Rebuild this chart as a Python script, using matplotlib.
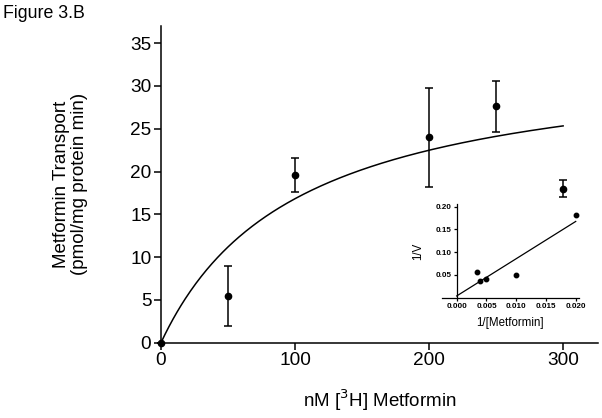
import numpy as np
import matplotlib
matplotlib.use("Agg")
import matplotlib.pyplot as plt

plt.rcParams["font.family"] = ["Liberation Sans", "DejaVu Sans"]

# main panel: uptake vs concentration (mean +/- error)
conc_nM = [0, 50, 100, 200, 250, 300]
transport = [0.0, 5.5, 19.6, 24.0, 27.6, 18.0]
transport_err = [0.0, 3.5, 2.0, 5.8, 2.95, 1.0]

# Michaelis-Menten fit parameters
VMAX = 33.9
KM = 101.5

# inset: Lineweaver-Burk
inv_conc = [1 / 300, 1 / 250, 1 / 200, 1 / 100, 1 / 50]
inv_v = [0.0555, 0.0362, 0.0415, 0.0505, 0.182]

x_ticks = [0, 100, 200, 300]
y_ticks = [0, 5, 10, 15, 20, 25, 30, 35]
inset_xticks = [0.000, 0.005, 0.010, 0.015, 0.020]
inset_yticks = [0.05, 0.10, 0.15, 0.20]

fig = plt.figure(figsize=(6.02, 4.18), dpi=100)
fig.patch.set_facecolor("white")

ax = fig.add_axes([0.2674, 0.1801, 0.7259, 0.7577])
xs = np.linspace(0, conc_nM[-1], 300)
ax.plot(xs, VMAX * xs / (KM + xs), color="black", lw=1.1)
ax.errorbar(conc_nM, transport, yerr=transport_err, fmt="o", color="black",
            ms=4.5, elinewidth=1.1, capsize=3.2, capthick=1.1, clip_on=False,
            zorder=3)
ax.set_xlim(0, 326)
ax.set_ylim(0, 37)
ax.set_xticks(x_ticks)
ax.set_yticks(y_ticks)
for s in ("top", "right"):
    ax.spines[s].set_visible(False)
for s in ("left", "bottom"):
    ax.spines[s].set_linewidth(1.1)
ax.tick_params(direction="out", length=5, width=1.1, labelsize=13.7, pad=2)
ax.set_xlabel(r"nM [$^{3}$H] Metformin", fontsize=13.5, labelpad=13)
ax.set_ylabel("Metformin Transport\n(pmol/mg protein min)", fontsize=13.5,
              labelpad=30, linespacing=1.1)

fig.text(0.005, 0.988, "Figure 3.B", fontsize=12.8, va="top", ha="left")

# inset
ins = fig.add_axes([0.7339, 0.2878, 0.2274, 0.2232])
slope, icept = np.polyfit(inv_conc, inv_v, 1)
lx = np.array([0.0, max(inv_conc)])
ins.plot(lx, slope * lx + icept, color="black", lw=0.9)
ins.plot(inv_conc, inv_v, "o", color="black", ms=3.2)
ins.set_xlim(-0.0025, 0.0205)
ins.set_ylim(0, 0.205)
ins.spines["left"].set_position(("data", 0))
for s in ("top", "right"):
    ins.spines[s].set_visible(False)
for s in ("left", "bottom"):
    ins.spines[s].set_linewidth(0.9)
ins.set_xticks(inset_xticks)
ins.set_xticklabels([f"{v:.3f}" for v in inset_xticks])
ins.set_yticks(inset_yticks)
ins.set_yticklabels([f"{v:.2f}" for v in inset_yticks])
ins.tick_params(direction="out", length=2.5, width=0.9, labelsize=5.8, pad=1.5)
for lab in ins.get_xticklabels() + ins.get_yticklabels():
    lab.set_fontweight("bold")
ins.set_xlabel("1/[Metformin]", fontsize=8.3, labelpad=5)
ins.set_ylabel("1/V", fontsize=8.3)
ins.yaxis.set_label_coords(-0.13, 0.5)
ins.patch.set_alpha(0)

fig.savefig("out.png", dpi=100)
